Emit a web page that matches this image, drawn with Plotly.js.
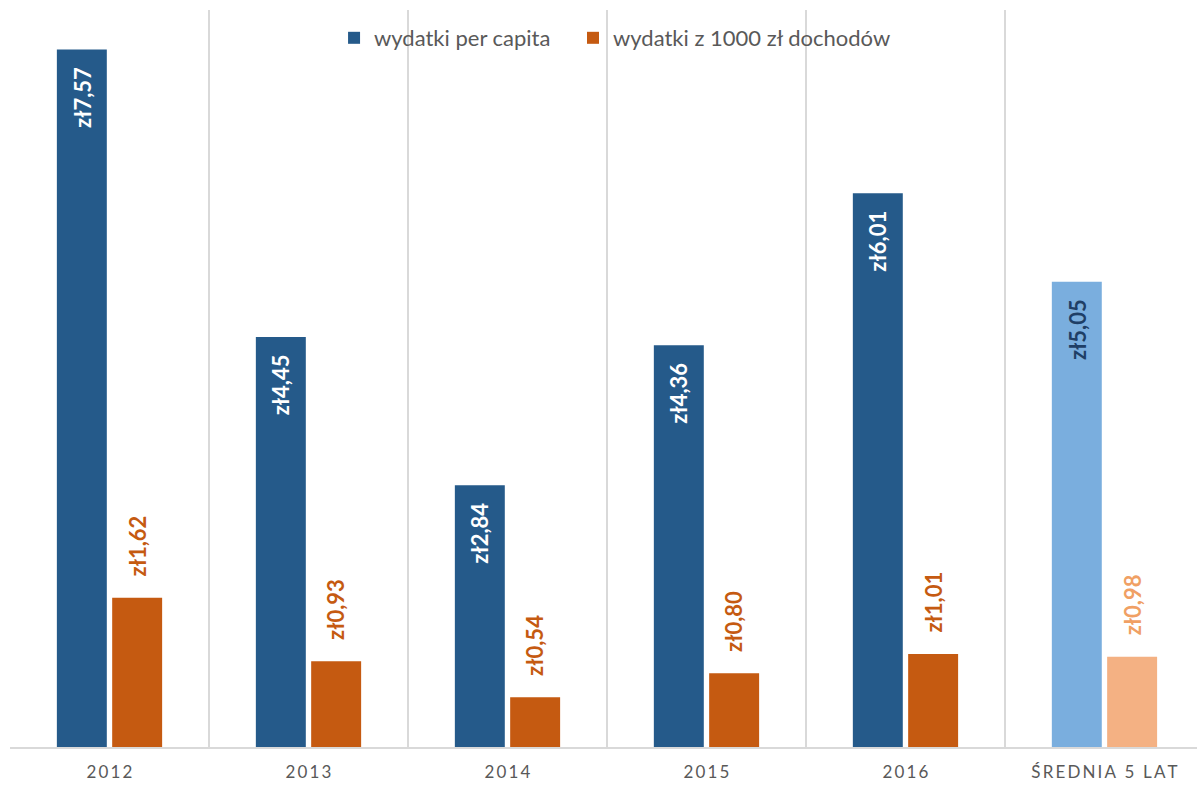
<!DOCTYPE html>
<html>
<head>
<meta charset="utf-8">
<script src="https://cdn.plot.ly/plotly-3.0.1.min.js"></script>
<style>html,body{margin:0;padding:0;background:#fff;}#chart{width:1197px;height:785px;}</style>
</head>
<body>
<div id="chart"></div>
<script>
const categories = ['2012', '2013', '2014', '2015', '2016', 'ŚREDNIA 5 LAT'];
const perCapita = [7.57, 4.45, 2.84, 4.36, 6.01, 5.05];
const per1000 = [1.62, 0.93, 0.54, 0.80, 1.01, 0.98];
const seriesNames = ['wydatki per capita', 'wydatki z 1000 zł dochodów'];

const fmt = v => 'zł' + v.toFixed(2).replace('.', ',');
const spaced = s => s.split('').join('\u2009');

const blue = '#255a8a', blueLight = '#7aaede';
const orange = '#c55a11', orangeLight = '#f4b183';
const n = categories.length;
const FONT = 'Lato, "Open Sans", sans-serif';

const traces = [
  {
    type: 'bar', name: seriesNames[0], x: categories, y: perCapita, legend: 'legend',
    marker: {color: categories.map((c, i) => i === n - 1 ? blueLight : blue)},
    hoverinfo: 'none'
  },
  {
    type: 'bar', name: seriesNames[1], x: categories, y: per1000, legend: 'legend2',
    marker: {color: categories.map((c, i) => i === n - 1 ? orangeLight : orange)},
    hoverinfo: 'none'
  }
];

const off = 0.139;
const annotations = [];
perCapita.forEach((v, i) => {
  annotations.push({
    x: i - off, y: v, xref: 'x', yref: 'y', text: fmt(v), showarrow: false,
    textangle: -90, yanchor: 'top', xanchor: 'center', yshift: -15,
    font: {family: FONT, size: 22, weight: 'bold', color: i === n - 1 ? '#1f3f66' : '#ffffff'}
  });
});
per1000.forEach((v, i) => {
  annotations.push({
    x: i + off, y: v, xref: 'x', yref: 'y', text: fmt(v), showarrow: false,
    textangle: -90, yanchor: 'bottom', xanchor: 'center', yshift: 19,
    font: {family: FONT, size: 22, weight: 'bold', color: i === n - 1 ? '#f0a064' : orange}
  });
});

const legendBase = {
  orientation: 'h', xanchor: 'left', y: 0.962, yanchor: 'middle',
  bgcolor: 'rgba(0,0,0,0)', font: {size: 22, color: '#595959'}
};

const layout = {
  width: 1197, height: 785,
  margin: {l: 10, r: 0, t: 10, b: 38},
  paper_bgcolor: '#ffffff', plot_bgcolor: '#ffffff',
  barmode: 'group', bargap: 0.444, bargroupgap: 0.097,
  font: {family: FONT, color: '#595959'},
  xaxis: {
    type: 'category', range: [-0.5, 5.465],
    tickmode: 'array', tickvals: categories, ticktext: categories.map(spaced),
    tickson: 'boundaries', ticks: '', showgrid: true, gridcolor: '#d9d9d9', gridwidth: 1.5,
    showline: true, linecolor: '#d9d9d9', linewidth: 2,
    tickfont: {size: 17, color: '#595959'}, ticklabelstandoff: 9,
    fixedrange: true
  },
  yaxis: {
    range: [0, 8], showgrid: false, zeroline: false, showticklabels: false,
    showline: false, ticks: '', fixedrange: true
  },
  legend: Object.assign({}, legendBase, {x: 0.273}),
  legend2: Object.assign({}, legendBase, {x: 0.4743}),
  showlegend: true,
  annotations: annotations
};

Plotly.newPlot('chart', traces, layout, {displayModeBar: false, staticPlot: true});
</script>
</body>
</html>
